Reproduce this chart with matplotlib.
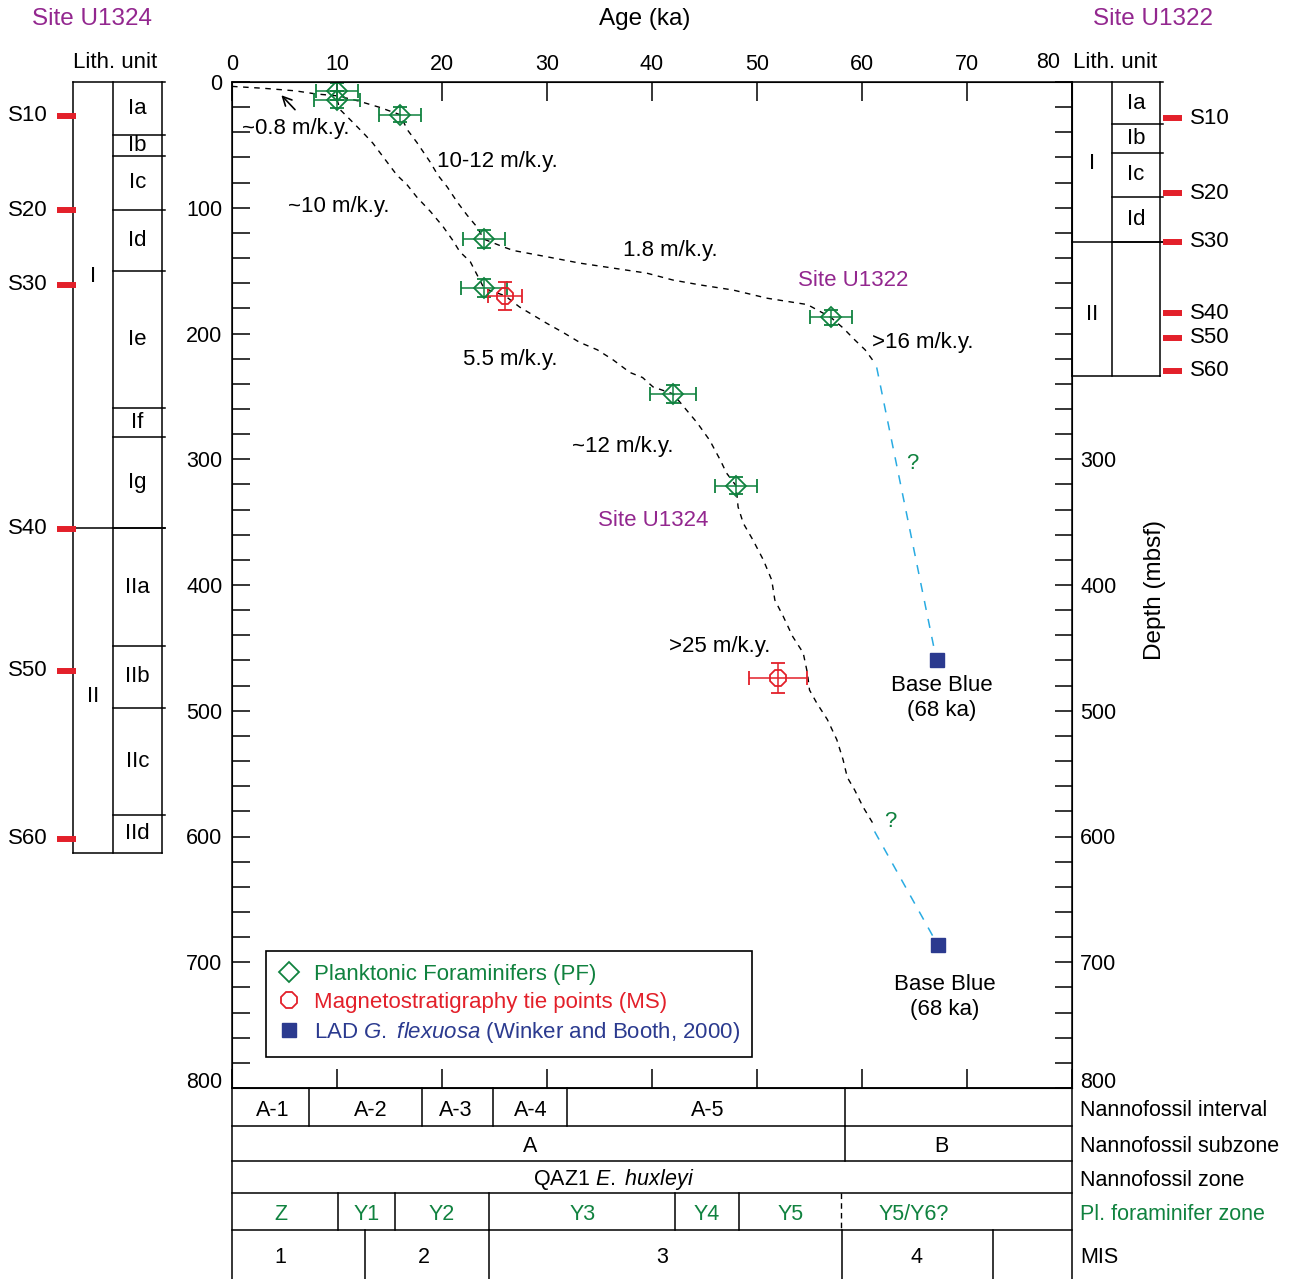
import matplotlib
matplotlib.use("Agg")
import matplotlib.pyplot as plt
from matplotlib.lines import Line2D
import numpy as np

plt.rcParams['font.family'] = ['Liberation Sans', 'DejaVu Sans']
plt.rcParams['mathtext.fontset'] = 'custom'
plt.rcParams['mathtext.rm'] = 'Liberation Sans'
plt.rcParams['mathtext.it'] = 'Liberation Sans:italic'

GREEN, RED, NAVY, PURPLE, CYAN = '#10823f', '#e3202a', '#2b3a8f', '#93278f', '#29abe2'

# ---- datums (age ka, depth mbsf) ----
pf_age = [10, 10, 16, 24, 24, 57, 42, 48]
pf_depth = [7.5, 14, 26, 125, 164, 187, 248, 321]
pf_age_err = [2, 2.2, 2, 2, 2.2, 2, 2.2, 2]
pf_depth_err = [7, 7, 6, 7, 7, 6, 7, 7]
ms_age = [26, 52]
ms_depth = [170, 474]
ms_age_err = [1.6, 2.8]
ms_depth_err = [11, 12]
lad_age = [67.1, 67.2]
lad_depth = [460, 686]

# age-depth traces
u1322_trace = [(0, 3.5), (3, 5), (6, 7), (8, 9.5), (10, 11), (12, 15), (14, 20), (16, 26),
               (16.7, 38), (17.6, 48), (18.9, 64), (19.6, 74), (20.5, 83.5), (21.5, 96),
               (22.4, 106), (23.3, 115), (24, 125), (25.8, 131), (26.8, 134), (30, 139),
               (33.1, 144), (36.3, 148), (39.5, 152), (42, 157.5), (44.6, 161.4),
               (47.7, 165.4), (51, 172), (54.8, 177), (57, 187), (58.2, 195.6),
               (59.3, 205), (60.3, 213), (61, 221)]
u1324_trace = [(10, 14), (10.3, 22), (11.5, 32), (12.5, 40.5), (13.4, 48.5), (14.4, 59.6),
               (15.7, 74), (16.7, 82), (17.6, 91.5), (18.9, 103), (20.1, 115), (21, 125.6),
               (21.7, 135), (22.7, 143), (24, 164), (26, 170), (27.4, 179), (28.4, 184),
               (30, 192), (31.5, 199), (33.1, 207), (34.8, 213), (36.3, 221), (37.9, 231),
               (39.1, 235), (40.1, 242.5), (42, 248), (43, 258), (44.3, 271), (45.5, 285),
               (46.5, 300.6), (47.1, 311), (48, 321), (48.2, 338), (48.7, 351), (49.6, 364),
               (50.6, 380), (51.4, 396), (51.7, 412), (52.5, 425), (53.4, 441), (54.4, 454),
               (54.8, 470), (55, 483.5), (55.7, 494), (56.7, 507), (57.6, 523), (58.2, 539),
               (58.6, 553), (59.3, 563), (60.1, 576.5), (61, 589)]
u1322_ext = [(61.4, 227), (67.1, 460)]
u1324_ext = [(61.2, 596), (67.2, 686)]

# ---- lithology ----
lith_l_bounds = [0, 42.1, 58.8, 101.8, 150.3, 259.2, 282.3, 354.7, 448.5, 497.8, 582.9, 613.1]
lith_l_names = ['Ia', 'Ib', 'Ic', 'Id', 'Ie', 'If', 'Ig', 'IIa', 'IIb', 'IIc', 'IId']
unit_l_names = ['I', 'II']
unit_l_bounds = [0, 354.7, 613.1]
unit_l_label_depth = [155, 489]
seis_names = ['S10', 'S20', 'S30', 'S40', 'S50', 'S60']
seis_l_depth = [26.8, 101.8, 161.4, 355.2, 468.2, 601.7]

lith_r_bounds = [0, 33.4, 56.7, 91.2, 127.0, 233.6]
lith_r_names = ['Ia', 'Ib', 'Ic', 'Id', '']
unit_r_names = ['I', 'II']
unit_r_bounds = [0, 127.0, 233.6]
unit_r_label_depth = [65, 185]
seis_r_depth = [28.9, 88.5, 127.0, 184.0, 203.3, 229.6]

# ---- biostrat table ----
row_titles = ['Nannofossil interval', 'Nannofossil subzone', 'Nannofossil zone',
              'Pl. foraminifer zone', 'MIS']
nanno_int_edges = [7.3, 18.1, 24.9, 31.9, 58.4]
nanno_int_labels = ['A-1', 'A-2', 'A-3', 'A-4', 'A-5']
nanno_int_pos = [3.9, 13.2, 21.3, 28.5, 45.3]
subzone_edges = [58.4]
subzone_labels = ['A', 'B']
subzone_pos = [28.4, 67.6]
zone_label = r'QAZ1 $\mathit{E.}$ $\mathit{huxleyi}$'
zone_pos = 36.4
pf_zone_edges = [10.1, 15.5, 24.5, 42.2, 48.3]
pf_zone_dashed = [58.0]
pf_zone_labels = ['Z', 'Y1', 'Y2', 'Y3', 'Y4', 'Y5', 'Y5/Y6?']
pf_zone_pos = [4.7, 12.8, 20.0, 33.4, 45.2, 53.2, 64.9]
mis_edges = [12.7, 24.5, 58.1, 72.5]
mis_labels = ['1', '2', '3', '4']
mis_pos = [4.6, 18.3, 41.0, 65.2]

W, H = 1299, 1279
fig = plt.figure(figsize=(W / 100, H / 100), dpi=100)

def ftxt(x, y, s, **kw):
    fig.text(x / W, 1 - y / H, s, **kw)

ax_l, ax_r, ax_b, ax_t = 232, 1072, 1088, 82
rect_y = 1 - ax_b / H
rect_h = (ax_b - ax_t) / H
ax = fig.add_axes([ax_l / W, rect_y, (ax_r - ax_l) / W, rect_h])
ax.set_xlim(0, 80)
ax.set_ylim(800, 0)
for s in ax.spines.values():
    s.set_linewidth(1.1)

a, d = np.array(u1322_trace).T
ax.plot(a, d, color='black', lw=1.0, dashes=(4, 4), zorder=2)
a, d = np.array(u1324_trace).T
ax.plot(a, d, color='black', lw=1.0, dashes=(4, 4), zorder=2)
for ext in (u1322_ext, u1324_ext):
    a, d = np.array(ext).T
    ax.plot(a, d, color=CYAN, lw=1.1, dashes=(6, 6), zorder=2)

ax.errorbar(pf_age, pf_depth, xerr=pf_age_err, yerr=pf_depth_err, fmt='D', ms=10,
            mfc='none', mec=GREEN, mew=1.3, ecolor=GREEN, elinewidth=1.1,
            capsize=5, capthick=1.1, zorder=4)
ax.errorbar(ms_age, ms_depth, xerr=ms_age_err, yerr=ms_depth_err, fmt='8', ms=12,
            mfc='none', mec=RED, mew=1.3, ecolor=RED, elinewidth=1.1,
            capsize=5, capthick=1.1, zorder=4)
ax.plot(lad_age, lad_depth, 's', color=NAVY, ms=10, zorder=5)

fs = 16
ax.text(0.95, 36.6, '~0.8 m/k.y.', fontsize=fs, va='center')
ax.annotate('', xy=(4.7, 10.5), xytext=(6.0, 22),
            arrowprops=dict(arrowstyle='->', color='black', lw=1.2, mutation_scale=16,
                            shrinkA=0, shrinkB=0))
ax.text(19.5, 63.6, '10-12 m/k.y.', fontsize=fs, va='center')
ax.text(5.3, 99.4, '~10 m/k.y.', fontsize=fs, va='center')
ax.text(37.2, 133.6, '1.8 m/k.y.', fontsize=fs, va='center')
ax.text(53.9, 157.5, 'Site U1322', fontsize=fs, va='center', color=PURPLE)
ax.text(61.0, 206.8, '>16 m/k.y.', fontsize=fs, va='center')
ax.text(22.0, 221, '5.5 m/k.y.', fontsize=fs, va='center')
ax.text(32.4, 290, '~12 m/k.y.', fontsize=fs, va='center')
ax.text(34.9, 349, 'Site U1324', fontsize=fs, va='center', color=PURPLE)
ax.text(41.6, 449, '>25 m/k.y.', fontsize=fs, va='center')
ax.text(64.8, 303, '?', fontsize=fs, va='center', ha='center', color=GREEN)
ax.text(62.7, 588, '?', fontsize=fs, va='center', ha='center', color=GREEN)
ax.text(67.6, 490, 'Base Blue\n(68 ka)', fontsize=fs, va='center', ha='center', linespacing=1.25)
ax.text(67.9, 728, 'Base Blue\n(68 ka)', fontsize=fs, va='center', ha='center', linespacing=1.25)

# ticks
xt = list(range(0, 81, 10))
ax.set_xticks(xt)
ax.set_xticklabels([str(v) if v < 80 else '' for v in xt])
ax.xaxis.set_ticks_position('both')
ax.tick_params(axis='x', direction='in', length=14, width=1.1, labeltop=True,
               labelbottom=False, labelsize=15.5, pad=5)
ax.text(80 - 24 / 10.5, 1 + 20 / 1006, '80', fontsize=15.5, ha='center', va='center',
        transform=ax.get_xaxis_transform())
yt = list(range(0, 801, 100))
ax.set_yticks(yt)
ax.set_yticks(range(0, 801, 20), minor=True)
ax.tick_params(axis='y', which='both', direction='in', length=13, width=1.1,
               left=True, right=False, labelsize=15.5, pad=7)
ax2 = ax.twinx()
ax2.set_ylim(800, 0)
ax2.set_yticks(yt)
ax2.set_yticks(range(0, 801, 20), minor=True)
ax2.set_yticklabels([str(v) if v >= 300 else '' for v in yt])
ax2.tick_params(axis='y', which='both', direction='in', length=12, width=1.1,
                labelsize=15.5, pad=6)
ax.get_yticklabels()[-1].set_va('baseline')
ax2.get_yticklabels()[-1].set_va('baseline')

ftxt(645, 19, 'Age (ka)', fontsize=17.5, ha='center', va='center')
ftxt(1155, 590, 'Depth (mbsf)', fontsize=17.5, ha='center', va='center', rotation=90)
ftxt(92, 19, 'Site U1324', fontsize=17.5, ha='center', va='center', color=PURPLE)
ftxt(1153, 19, 'Site U1322', fontsize=17.5, ha='center', va='center', color=PURPLE)
ftxt(115, 62, 'Lith. unit', fontsize=16, ha='center', va='center')
ftxt(1115, 62, 'Lith. unit', fontsize=16, ha='center', va='center')

# legend
handles = [Line2D([], [], marker='D', ls='none', ms=10, mfc='none', mec=GREEN, mew=1.3),
           Line2D([], [], marker='8', ls='none', ms=12, mfc='none', mec=RED, mew=1.3),
           Line2D([], [], marker='s', ls='none', ms=10, color=NAVY)]
labels = ['Planktonic Foraminifers (PF)', 'Magnetostratigraphy tie points (MS)',
          r'LAD $\mathit{G.}$ $\mathit{flexuosa}$ (Winker and Booth, 2000)']
leg = ax.legend(handles, labels, loc='lower left', bbox_to_anchor=(34 / 840, 31 / 1006),
                fancybox=False, edgecolor='black', fontsize=16, framealpha=1,
                labelcolor=[GREEN, RED, NAVY], handlelength=1.0, handletextpad=0.6,
                borderpad=0.55, labelspacing=0.32, borderaxespad=0)
leg.get_frame().set_linewidth(1.2)

# lithology columns
lk = dict(color='black', lw=1.1, clip_on=False)

def lith_column(axl, x0, x1, x2, sub_b, sub_n, unit_n, unit_b, unit_lab, seis_d, bar, lab_x, ha):
    axl.set_ylim(800, 0)
    axl.axis('off')
    bot = sub_b[-1]
    for x in (x0, x1, x2):
        axl.plot([x, x], [0, bot], **lk)
    axl.plot([x0, x2 + 3], [0, 0], **lk)
    axl.plot([x0, x2], [bot, bot], **lk)
    for b in sub_b[1:-1]:
        axl.plot([x1, x2 + 3], [b, b], **lk)
    for b in unit_b[1:-1]:
        axl.plot([x0, x2 + 3], [b, b], **lk)
    for i, n in enumerate(sub_n):
        axl.text((x1 + x2) / 2, (sub_b[i] + sub_b[i + 1]) / 2, n, fontsize=16,
                 ha='center', va='center')
    for n, dl in zip(unit_n, unit_lab):
        axl.text((x0 + x1) / 2, dl, n, fontsize=16, ha='center', va='center')
    for n, dd in zip(seis_names, seis_d):
        axl.plot(bar, [dd, dd], color=RED, lw=4.3, solid_capstyle='butt', clip_on=False)
        axl.text(lab_x, dd, n, fontsize=16, ha=ha, va='center')

axL = fig.add_axes([0, rect_y, ax_l / W, rect_h])
axL.set_xlim(0, ax_l)
lith_column(axL, 73, 113, 162, lith_l_bounds, lith_l_names, unit_l_names, unit_l_bounds,
            unit_l_label_depth, seis_l_depth, [57, 76], 48, 'right')
axR = fig.add_axes([ax_r / W, rect_y, (W - ax_r) / W, rect_h])
axR.set_xlim(ax_r, W)
lith_column(axR, 1072, 1112, 1160, lith_r_bounds, lith_r_names, unit_r_names, unit_r_bounds,
            unit_r_label_depth, seis_r_depth, [1163, 1182], 1190, 'left')

# biostratigraphy table
axT = fig.add_axes([ax_l / W, 0, (ax_r - ax_l) / W, (H - ax_b) / H])
axT.set_xlim(0, 80)
row_edges = [0, 38, 73, 105, 142, 191]
axT.set_ylim(row_edges[-1], 0)
axT.axis('off')
for e in row_edges[:-1]:
    axT.plot([0, 80], [e, e], **lk)
for x in (0, 80):
    axT.plot([x, x], [0, row_edges[-1]], **lk)

def row(i, edges, lbls, pos, color='black', dashed=()):
    y0, y1 = row_edges[i], row_edges[i + 1]
    for e in edges:
        axT.plot([e, e], [y0, y1], **lk)
    for e in dashed:
        axT.plot([e, e], [y0, y1], color='black', lw=1.0, dashes=(4, 3))
    for s, p in zip(lbls, pos):
        axT.text(p, (y0 + y1) / 2 + 3, s, fontsize=15.5, ha='center', va='center', color=color)

row(0, nanno_int_edges, nanno_int_labels, nanno_int_pos)
row(1, subzone_edges, subzone_labels, subzone_pos)
row(2, [], [zone_label], [zone_pos])
row(3, pf_zone_edges, pf_zone_labels, pf_zone_pos, color=GREEN, dashed=pf_zone_dashed)
row(4, mis_edges, mis_labels, mis_pos)
for i, t in enumerate(row_titles):
    axT.text(80.75, (row_edges[i] + row_edges[i + 1]) / 2 + 3, t, fontsize=15.5, ha='left',
             va='center', color=GREEN if i == 3 else 'black', clip_on=False)

fig.savefig('out.png', dpi=100)
